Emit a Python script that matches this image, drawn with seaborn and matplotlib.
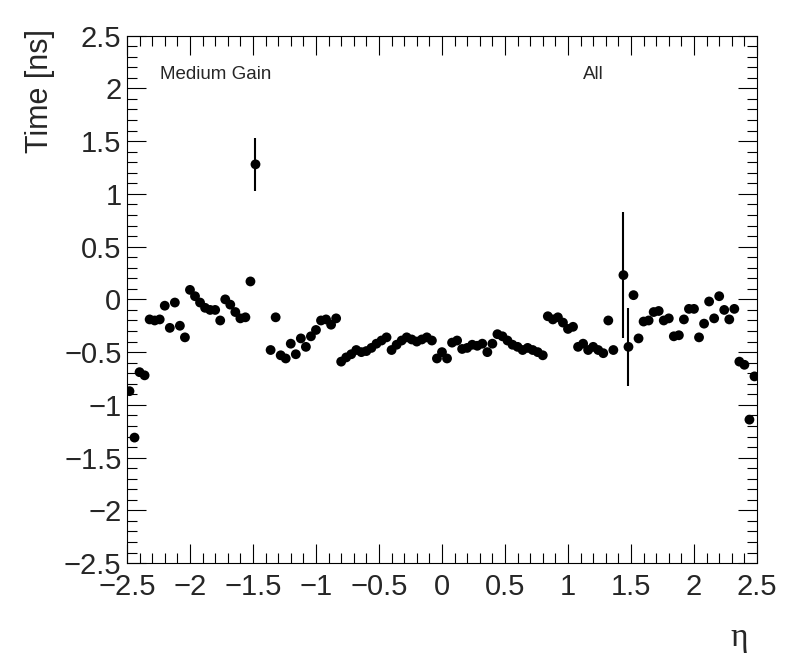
import numpy as np
import pandas as pd
import seaborn as sns
import matplotlib.pyplot as plt
from matplotlib.ticker import MultipleLocator, FuncFormatter

# bin centres: 125 bins of 0.04 between -2.5 and 2.5
eta = np.linspace(-2.48, 2.48, 125).round(2)

# mean time per bin [ns], nan = empty bin
time_ns = [
    -0.87, -1.31, -0.69, -0.72, -0.19, -0.20, -0.19, -0.06, -0.27, -0.03,
    -0.25, -0.36, 0.09, 0.03, -0.03, -0.08, -0.10, -0.10, -0.20, 0.00,
    -0.05, -0.12, -0.18, -0.17, 0.17, 1.28, np.nan, np.nan, -0.48, -0.17,
    -0.53, -0.56, -0.42, -0.52, -0.37, -0.45, -0.35, -0.29, -0.20, -0.19,
    -0.24, -0.18, -0.59, -0.55, -0.52, -0.48, -0.50, -0.49, -0.46, -0.42,
    -0.39, -0.36, -0.48, -0.43, -0.39, -0.36, -0.38, -0.40, -0.38, -0.36,
    -0.39, -0.56, -0.50, -0.56, -0.41, -0.39, -0.47, -0.46, -0.43, -0.44,
    -0.42, -0.50, -0.42, -0.33, -0.35, -0.39, -0.43, -0.45, -0.48, -0.46,
    -0.48, -0.50, -0.53, -0.16, -0.19, -0.17, -0.22, -0.28, -0.26, -0.45,
    -0.42, -0.48, -0.45, -0.48, -0.51, -0.20, -0.48, np.nan, 0.23, -0.45,
    0.04, -0.37, -0.21, -0.20, -0.12, -0.11, -0.20, -0.18, -0.35, -0.34,
    -0.19, -0.09, -0.09, -0.36, -0.23, -0.02, -0.18, 0.03, -0.10, -0.19,
    -0.09, -0.59, -0.62, -1.14, -0.73,
]

# the only bins whose error bar sticks out of the marker
err_eta = [-1.48, 1.44, 1.48]
err_ns = [0.25, 0.60, 0.37]

sns.set_style('ticks')
plt.rcParams['font.family'] = ['Liberation Sans', 'DejaVu Sans']

df = pd.DataFrame({'eta': eta, 'time': time_ns}).dropna()

fig = plt.figure(figsize=(7.96, 6.72), dpi=100)
ax = fig.add_axes([0.1595, 0.162, 0.7915, 0.785])

sns.scatterplot(data=df, x='eta', y='time', color='black', s=50,
                edgecolor='none', ax=ax, zorder=3, legend=False)

err_y = df.set_index('eta').loc[err_eta, 'time'].values
ax.errorbar(err_eta, err_y, yerr=err_ns, fmt='none', ecolor='black',
            elinewidth=1.5, capsize=0, zorder=2)

ax.set_xlim(-2.5, 2.5)
ax.set_ylim(-2.5, 2.5)

fmt = FuncFormatter(lambda v, p: f'{round(v, 2) + 0.0:g}'.replace('-', '\u2212'))
for axis in (ax.xaxis, ax.yaxis):
    axis.set_major_locator(MultipleLocator(0.5))
    axis.set_minor_locator(MultipleLocator(0.1))
    axis.set_major_formatter(fmt)

ax.tick_params(which='both', direction='in', top=True, right=True,
               width=0.8, color='black')
ax.tick_params(which='major', length=14)
ax.tick_params(which='minor', length=7)
ax.tick_params(axis='x', labelsize=21, pad=7)
ax.tick_params(axis='y', labelsize=21, pad=4)

for sp in ax.spines.values():
    sp.set_visible(True)
    sp.set_color('black')
    sp.set_linewidth(0.8)

ax.set_ylabel('Time [ns]', fontsize=22, loc='top')
ax.yaxis.set_label_coords(-0.114, 1.012)
ax.set_xlabel('\u03b7', fontsize=24, loc='right', family=['Liberation Serif', 'DejaVu Serif'])
ax.xaxis.set_label_coords(0.985, -0.113)

ax.text(0.052, 0.926, 'Medium Gain', transform=ax.transAxes, fontsize=13.5, va='center')
ax.text(0.74, 0.926, 'All', transform=ax.transAxes, fontsize=13.5, va='center', ha='center')

fig.savefig('out.png', dpi=100)
